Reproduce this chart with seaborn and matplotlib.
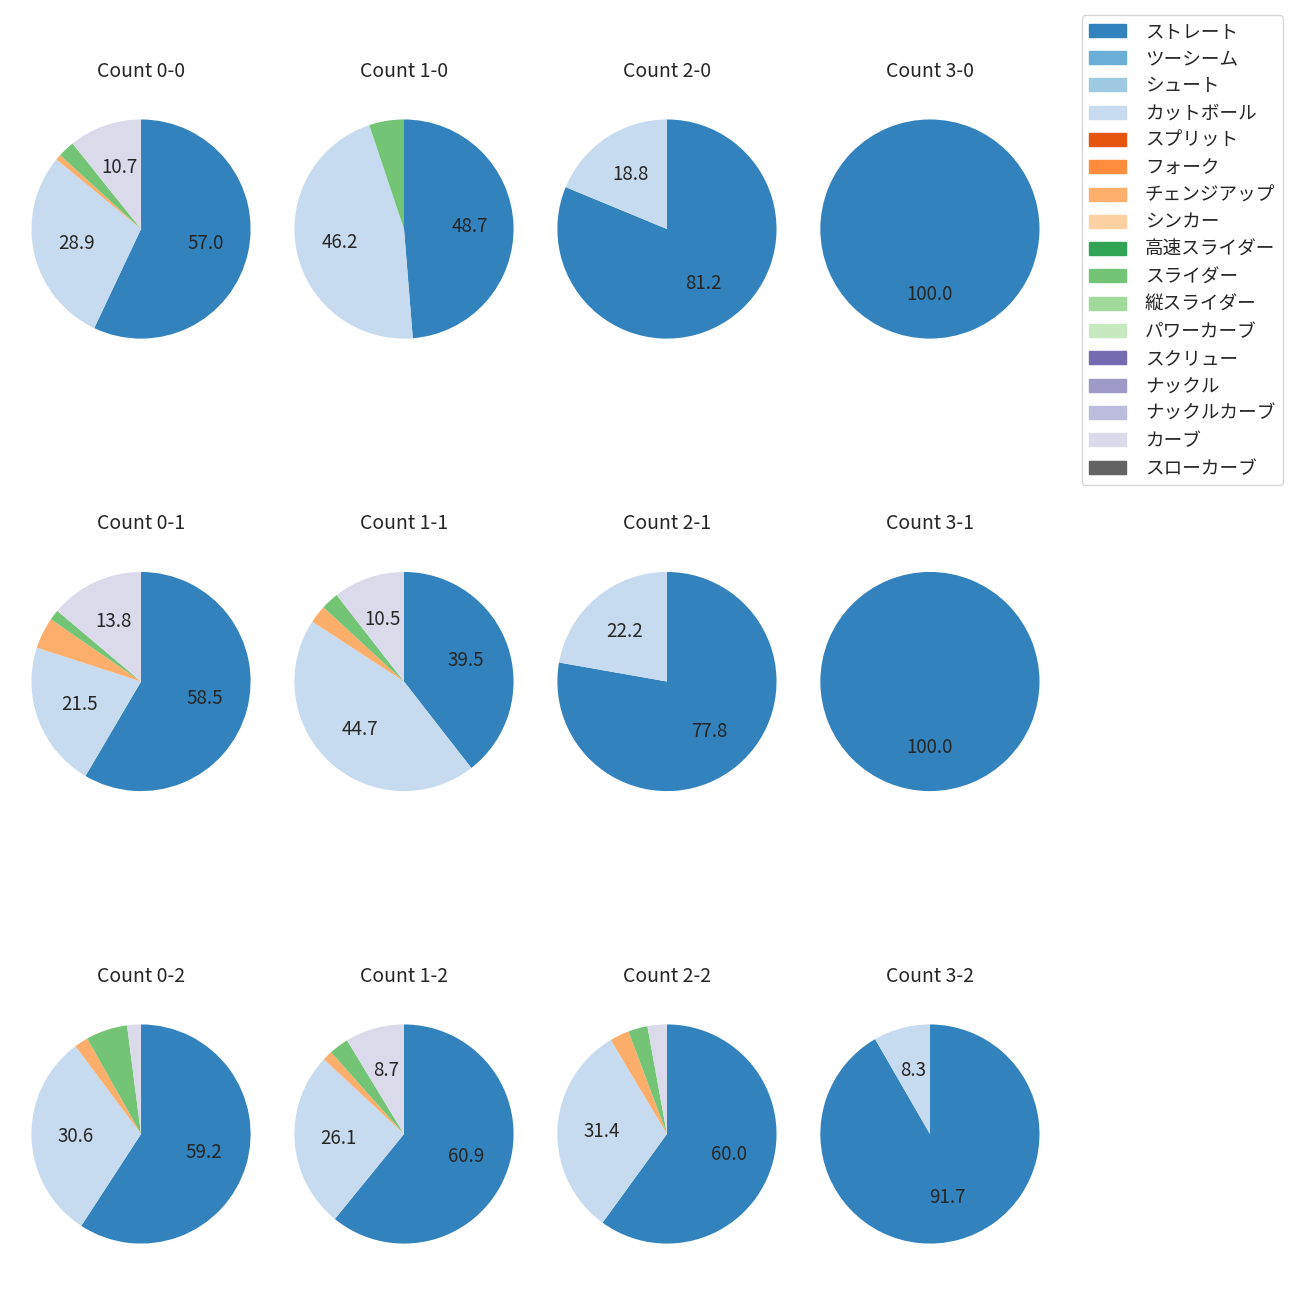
import matplotlib
matplotlib.use('Agg')
import matplotlib.pyplot as plt
import matplotlib.patches as mpatches
import numpy as np
import pandas as pd
import seaborn as sns

sns.set_style('white')
plt.rcParams['font.family'] = ['Noto Sans CJK JP', 'DejaVu Sans']

#Pitch types in legend order
pitch_types = ['ストレート', 'ツーシーム', 'シュート', 'カットボール', 'スプリット', 'フォーク',
               'チェンジアップ', 'シンカー', '高速スライダー', 'スライダー', '縦スライダー',
               'パワーカーブ', 'スクリュー', 'ナックル', 'ナックルカーブ', 'カーブ', 'スローカーブ']

#Ball-strike counts, in grid order (rows = strikes, cols = balls)
count_labels = ['0-0', '1-0', '2-0', '3-0',
                '0-1', '1-1', '2-1', '3-1',
                '0-2', '1-2', '2-2', '3-2']

#Number of pitches of each type per count (read back from the shown percentages)
straight = [69, 19, 13, 5, 38, 15, 7, 3, 29, 42, 21, 11]
cutter = [35, 18, 3, 0, 14, 17, 2, 0, 15, 18, 11, 1]
changeup = [1, 0, 0, 0, 3, 1, 0, 0, 1, 1, 1, 0]
slider = [3, 2, 0, 0, 1, 1, 0, 0, 3, 2, 1, 0]
curve = [13, 0, 0, 0, 9, 4, 0, 0, 1, 6, 1, 0]

pitches = pd.DataFrame(0, index=count_labels, columns=pitch_types)
pitches['ストレート'] = straight
pitches['カットボール'] = cutter
pitches['チェンジアップ'] = changeup
pitches['スライダー'] = slider
pitches['カーブ'] = curve

palette = dict(zip(pitch_types, sns.color_palette('tab20c', len(pitch_types))))


def autopct(pct):
    return '%.1f' % pct if pct >= 7 else ''


fig, axes = plt.subplots(3, 4, figsize=(13, 13))
fig.subplots_adjust(left=0.0242, right=0.7996, top=0.9346, bottom=0.0169,
                    wspace=0.2, hspace=0.571)

for ax, count in zip(axes.flatten(), count_labels):
    row = pitches.loc[count]
    row = row[row > 0]
    ax.pie(row.values, colors=[palette[p] for p in row.index], startangle=90,
           counterclock=False, autopct=autopct, wedgeprops={'linewidth': 0},
           textprops={'fontsize': 13.5})
    ax.set_aspect('equal', adjustable='datalim')
    ax.set_xlim(-1.0, 1.0)
    ax.set_ylim(-1.0, 1.0)
    ax.set_title('Count ' + count, fontsize=14)

handles = [mpatches.Patch(color=palette[p], label=p) for p in pitch_types]
fig.legend(handles=handles, loc='upper right', bbox_to_anchor=(0.9938, 0.9954),
           fontsize=13.4, handletextpad=1.0)

plt.savefig('out.png', dpi=100)
